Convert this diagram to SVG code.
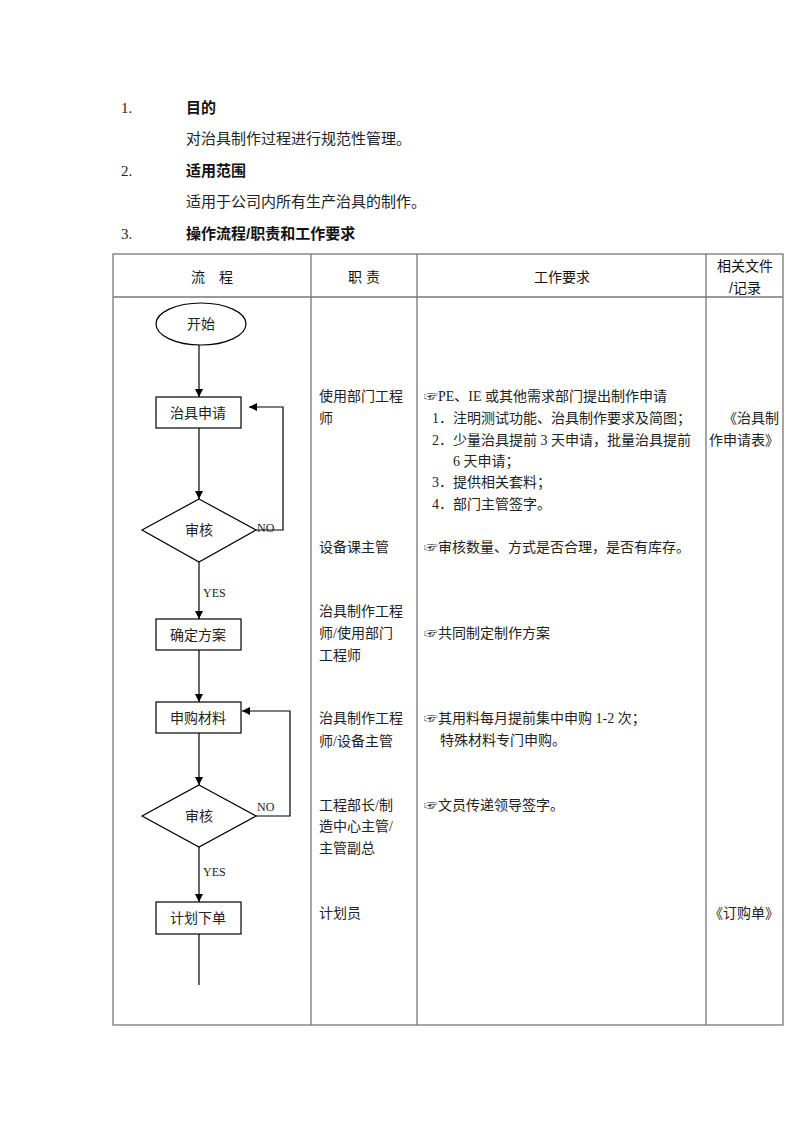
<svg xmlns="http://www.w3.org/2000/svg" width="800" height="1132" viewBox="0 0 800 1132">
<style>
.t{font-family:"Liberation Serif","Noto Sans CJK SC",serif;font-size:14px;fill:#222}
.h{font-family:"Liberation Sans","Noto Sans CJK SC",sans-serif;font-size:15px;font-weight:bold;fill:#111}
.b{font-family:"Liberation Serif","Noto Sans CJK SC",serif;font-size:15px;fill:#222}
.th{font-family:"Liberation Sans","Noto Sans CJK SC",sans-serif;font-size:14px;fill:#111}
.grid{stroke:#777;stroke-width:1.3;fill:none}
.shape{fill:#fff;stroke:#000;stroke-width:1.2}
.c{stroke:#000;stroke-width:1.2;fill:none}
.lbl{font-family:"Liberation Serif",serif;font-size:12px;fill:#222}
</style>
<defs>
<marker id="arr" viewBox="0 0 10 10" refX="10" refY="5" markerWidth="8" markerHeight="8" markerUnits="userSpaceOnUse" orient="auto">
<path d="M0,0 L10,5 L0,10 z" fill="#000"/>
</marker>
</defs>
<rect width="800" height="1132" fill="#fff"/>
<g id="heading">
<text class="b" x="121" y="113">1.</text>
<text class="h" x="186" y="113">目的</text>
<text class="b" x="186" y="144">对治具制作过程进行规范性管理。</text>
<text class="b" x="121" y="176">2.</text>
<text class="h" x="186" y="176">适用范围</text>
<text class="b" x="186" y="207">适用于公司内所有生产治具的制作。</text>
<text class="b" x="121" y="239">3.</text>
<text class="h" x="186" y="239">操作流程/职责和工作要求</text>
</g>
<g id="table">
<rect class="grid" x="113" y="254" width="670" height="771"/>
<line class="grid" x1="113" y1="297" x2="783" y2="297"/>
<line class="grid" x1="311" y1="254" x2="311" y2="1025"/>
<line class="grid" x1="417" y1="254" x2="417" y2="1025"/>
<line class="grid" x1="706" y1="254" x2="706" y2="1025"/>
<text class="th" x="212" y="282" text-anchor="middle">流　程</text>
<text class="th" x="364" y="282" text-anchor="middle">职 责</text>
<text class="th" x="562" y="282" text-anchor="middle">工作要求</text>
<text class="th" x="745" y="271" text-anchor="middle">相关文件</text>
<text class="th" x="745" y="293" text-anchor="middle">/记录</text>
</g>
<g id="roles">
<text class="t" x="319" y="401">使用部门工程</text>
<text class="t" x="319" y="423">师</text>
<text class="t" x="319" y="552">设备课主管</text>
<text class="t" x="319" y="616">治具制作工程</text>
<text class="t" x="319" y="638">师/使用部门</text>
<text class="t" x="319" y="660">工程师</text>
<text class="t" x="319" y="723">治具制作工程</text>
<text class="t" x="319" y="746">师/设备主管</text>
<text class="t" x="319" y="810">工程部长/制</text>
<text class="t" x="319" y="831">造中心主管/</text>
<text class="t" x="319" y="853">主管副总</text>
<text class="t" x="319" y="918">计划员</text>
</g>
<g id="requirements">
<text class="t" x="424" y="401">☞PE、IE 或其他需求部门提出制作申请</text>
<text class="t" x="432" y="423">1．注明测试功能、治具制作要求及简图；</text>
<text class="t" x="432" y="445">2．少量治具提前 3 天申请，批量治具提前</text>
<text class="t" x="453" y="466">6 天申请；</text>
<text class="t" x="432" y="487">3．提供相关套料；</text>
<text class="t" x="432" y="509">4．部门主管签字。</text>
<text class="t" x="424" y="552">☞审核数量、方式是否合理，是否有库存。</text>
<text class="t" x="424" y="638">☞共同制定制作方案</text>
<text class="t" x="424" y="723">☞其用料每月提前集中申购 1-2 次；</text>
<text class="t" x="440" y="745">特殊材料专门申购。</text>
<text class="t" x="424" y="810">☞文员传递领导签字。</text>
</g>
<g id="records">
<text class="t" x="779" y="423" text-anchor="end">《治具制</text>
<text class="t" x="779" y="445" text-anchor="end">作申请表》</text>
<text class="t" x="779" y="918" text-anchor="end">《订购单》</text>
</g>
<g id="connectors">
<line class="c" x1="199" y1="345" x2="199" y2="397" marker-end="url(#arr)"/>
<line class="c" x1="199" y1="428" x2="199" y2="499" marker-end="url(#arr)"/>
<polyline class="c" points="256,530 283,530 283,407 249,407" marker-end="url(#arr)"/>
<line class="c" x1="199" y1="562" x2="199" y2="619" marker-end="url(#arr)"/>
<line class="c" x1="199" y1="650" x2="199" y2="702" marker-end="url(#arr)"/>
<line class="c" x1="199" y1="733" x2="199" y2="785" marker-end="url(#arr)"/>
<polyline class="c" points="256,816 290,816 290,711 242,711" marker-end="url(#arr)"/>
<line class="c" x1="199" y1="847" x2="199" y2="902" marker-end="url(#arr)"/>
<line class="c" x1="199" y1="934" x2="199" y2="985"/>
<text class="lbl" x="257" y="532">NO</text>
<text class="lbl" x="257" y="811">NO</text>
<text class="lbl" x="203" y="597">YES</text>
<text class="lbl" x="203" y="876">YES</text>
</g>
<g id="n-start">
<ellipse class="shape" cx="201" cy="324" rx="45" ry="21"/>
<text class="t" x="201" y="329" text-anchor="middle">开始</text>
</g>
<g id="n-apply">
<rect class="shape" x="156" y="397" width="85" height="31"/>
<text class="t" x="198" y="418" text-anchor="middle">治具申请</text>
</g>
<g id="n-review1">
<polygon class="shape" points="199,499 256,530 199,562 142,530"/>
<text class="t" x="199" y="535" text-anchor="middle">审核</text>
</g>
<g id="n-plan">
<rect class="shape" x="156" y="619" width="85" height="31"/>
<text class="t" x="198" y="640" text-anchor="middle">确定方案</text>
</g>
<g id="n-purchase">
<rect class="shape" x="156" y="702" width="85" height="31"/>
<text class="t" x="198" y="723" text-anchor="middle">申购材料</text>
</g>
<g id="n-review2">
<polygon class="shape" points="199,785 256,816 199,847 142,816"/>
<text class="t" x="199" y="821" text-anchor="middle">审核</text>
</g>
<g id="n-order">
<rect class="shape" x="156" y="902" width="85" height="32"/>
<text class="t" x="198" y="923" text-anchor="middle">计划下单</text>
</g>
</svg>
